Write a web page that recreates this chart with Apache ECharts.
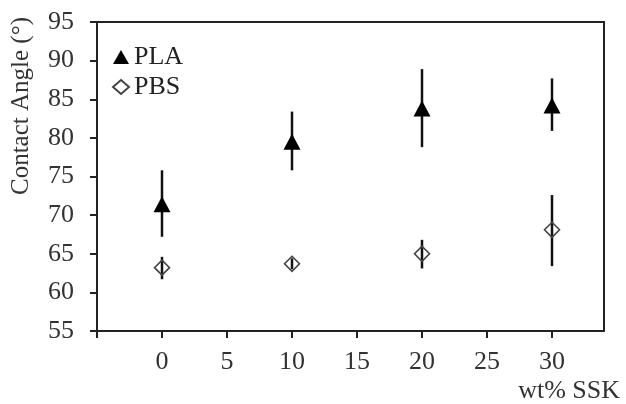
<!DOCTYPE html>
<html>
<head>
<meta charset="utf-8">
<script src="https://cdn.jsdelivr.net/npm/echarts@6/dist/echarts.min.js"></script>
<style>
  html, body { margin: 0; padding: 0; background: #fff; }
  #chart { width: 626px; height: 404px; }
</style>
</head>
<body>
<div id="chart"></div>
<script>
const xValues = [0, 10, 20, 30];
const plaMean = [71.4, 79.5, 83.8, 84.2];
const plaLow = [67.2, 75.8, 78.8, 80.9];
const plaHigh = [75.8, 83.4, 88.9, 87.7];
const pbsMean = [63.2, 63.7, 65.0, 68.1];
const pbsLow = [61.7, 63.0, 63.1, 63.4];
const pbsHigh = [64.6, 64.4, 66.8, 72.6];
const xTickValues = [-5, 0, 5, 10, 15, 20, 25, 30];
const xLabelValues = [0, 5, 10, 15, 20, 25, 30];
const seriesNames = ['PLA', 'PBS'];
const yTitle = 'Contact Angle (°)';
const xTitle = 'wt% SSK';

const FONT = '"Liberation Serif", "Times New Roman", serif';

function pairs(xs, ys) { return xs.map((x, i) => [x, ys[i]]); }
function bars(xs, lo, hi) { return xs.map((x, i) => [x, lo[i], hi[i]]); }

function renderErr(params, api) {
  const p1 = api.coord([api.value(0), api.value(1)]);
  const p2 = api.coord([api.value(0), api.value(2)]);
  return {
    type: 'line',
    shape: { x1: p1[0], y1: p1[1], x2: p2[0], y2: p2[1] },
    style: { stroke: '#111', lineWidth: 2.5 }
  };
}

const chart = echarts.init(document.getElementById('chart'), null, { renderer: 'canvas' });
chart.setOption({
  animation: false,
  backgroundColor: '#fff',
  grid: {
    left: 97, right: 22, top: 22, bottom: 73,
    show: true, borderColor: '#222', borderWidth: 2, backgroundColor: 'transparent'
  },
  legend: {
    data: seriesNames,
    orient: 'vertical',
    left: 112, top: 44,
    padding: 0,
    itemGap: 4,
    itemWidth: 16, itemHeight: 14,
    textStyle: { fontFamily: FONT, fontSize: 26, color: '#222', lineHeight: 26 }
  },
  xAxis: {
    type: 'value',
    min: -5, max: 34, interval: 5,
    axisLine: { show: true, onZero: false, lineStyle: { color: '#222', width: 2 } },
    axisTick: { show: true, length: 7, inside: false, customValues: xTickValues, lineStyle: { color: '#222', width: 2 } },
    axisLabel: { customValues: xLabelValues, margin: 18, fontFamily: FONT, fontSize: 26, color: '#333' },
    splitLine: { show: false }
  },
  yAxis: {
    type: 'value',
    min: 55, max: 95, interval: 5,
    axisLine: { show: true, onZero: false, lineStyle: { color: '#222', width: 2 } },
    axisTick: { show: true, length: 7, inside: false, lineStyle: { color: '#222', width: 2 } },
    axisLabel: { margin: 23, fontFamily: FONT, fontSize: 26, color: '#333' },
    splitLine: { show: false }
  },
  graphic: [
    {
      type: 'text', x: 21, y: 106, rotation: Math.PI / 2,
      style: { text: yTitle, font: '25px ' + FONT, fill: '#333', align: 'center', verticalAlign: 'middle' }
    },
    {
      type: 'text', x: 620, y: 391,
      style: { text: xTitle, font: '26px ' + FONT, fill: '#333', align: 'right', verticalAlign: 'middle' }
    }
  ],
  series: [
    {
      type: 'custom', name: 'PLA err', renderItem: renderErr,
      encode: { x: 0, y: [1, 2] }, data: bars(xValues, plaLow, plaHigh), z: 1, silent: true
    },
    {
      type: 'custom', name: 'PBS err', renderItem: renderErr,
      encode: { x: 0, y: [1, 2] }, data: bars(xValues, pbsLow, pbsHigh), z: 1, silent: true
    },
    {
      type: 'scatter', name: 'PLA', data: pairs(xValues, plaMean),
      symbol: 'triangle', symbolSize: [17, 16],
      itemStyle: { color: '#000', opacity: 1 }, z: 3
    },
    {
      type: 'scatter', name: 'PBS', data: pairs(xValues, pbsMean),
      symbol: 'diamond', symbolSize: [15, 15],
      itemStyle: { color: 'rgba(255,255,255,0)', borderColor: '#444', borderWidth: 1.6, opacity: 1 }, z: 3
    }
  ]
});
</script>
</body>
</html>
